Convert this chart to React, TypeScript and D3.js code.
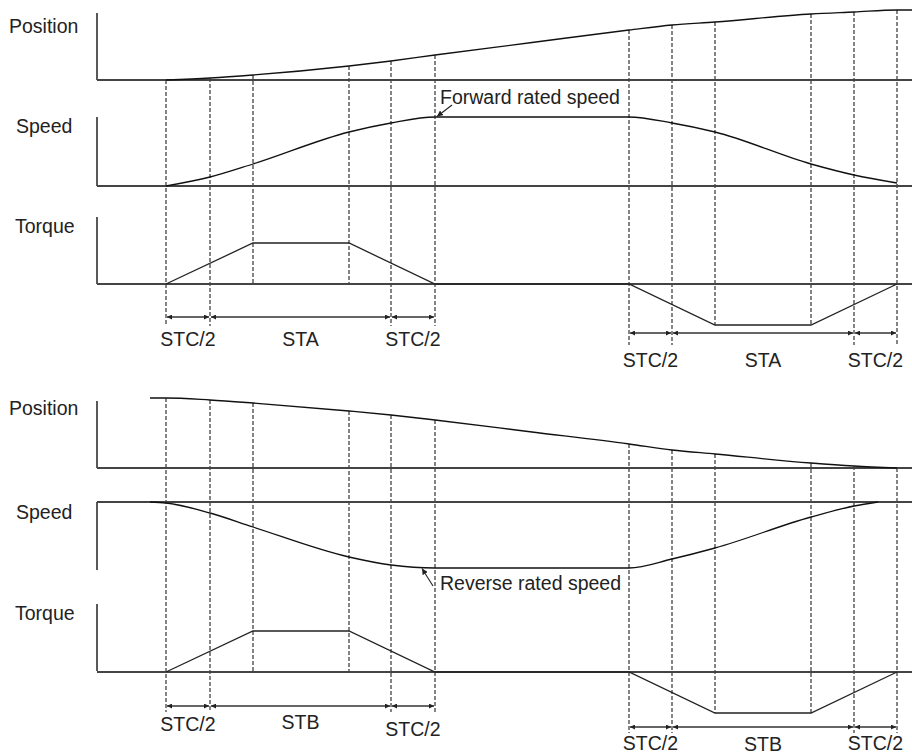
import React from "react";
import * as d3 from "d3";

// ---------- data (time units) ----------
const eventTimes = [0, 44, 87, 183, 225, 269, 463, 506, 549, 645, 688, 731];

const fwdPosT = [0, 44, 87, 183, 225, 269, 366, 463, 506, 549, 645, 688, 731, 746];
const fwdPosV = [0, 2, 5, 14, 19, 25, 37.5, 50, 55, 58, 66, 68, 70, 70];

const fwdSpeedT = [0, 44, 87, 183, 225, 269, 463, 506, 549, 645, 688, 731];
const fwdSpeedV = [0, 9, 22, 54, 63, 69, 69, 63, 54, 22, 11, 3];

const torqueT = [0, 87, 183, 269, 463, 549, 645, 731];
const torqueV = [0, 1, 1, 0, 0, -1, -1, 0];

const revPosT = [-16, 0, 44, 87, 183, 225, 269, 366, 463, 506, 549, 645, 688, 731];
const revPosV = [70, 70, 68, 65, 57, 53, 48, 36, 24, 18, 14, 5, 2, 0];

const revSpeedT = [-16, 0, 44, 87, 183, 225, 269, 463, 506, 549, 645, 688, 712];
const revSpeedV = [0, -1, -11, -25, -55, -63, -66, -66, -57, -46, -15, -4, 0];

const panelLabels = ["Position", "Speed", "Torque"];
const dimLabelsA = ["STC/2", "STA", "STC/2"];
const dimLabelsB = ["STC/2", "STB", "STC/2"];
const fwdNote = "Forward rated speed";
const revNote = "Reverse rated speed";

// ---------- layout ----------
const W = 912;
const H = 755;
const AX = 97;
const FONT = "'Liberation Sans', Arial, sans-serif";
const FS = 19.5;

const x = d3.scaleLinear().domain([0, 731]).range([166, 897]);

const zip = (t: number[], v: number[]) => t.map((tt, i) => [tt, v[i]] as [number, number]);

function smooth(t: number[], v: number[], y: d3.ScaleLinear<number, number>) {
  return d3
    .line<[number, number]>()
    .x((d) => x(d[0]))
    .y((d) => y(d[1]))
    .curve(d3.curveMonotoneX)(zip(t, v)) as string;
}
function straight(t: number[], v: number[], y: d3.ScaleLinear<number, number>) {
  return d3
    .line<[number, number]>()
    .x((d) => x(d[0]))
    .y((d) => y(d[1]))(zip(t, v)) as string;
}

// panel scales
const topPosY = d3.scaleLinear().domain([0, 70]).range([80, 10]);
const topSpeedY = d3.scaleLinear().domain([0, 69]).range([186, 117]);
const topTorqueY = d3.scaleLinear().domain([-1, 1]).range([325, 243]);
const botPosY = d3.scaleLinear().domain([0, 70]).range([468, 398]);
const botSpeedY = d3.scaleLinear().domain([-66, 0]).range([568, 502]);
const botTorqueY = d3.scaleLinear().domain([-1, 1]).range([713, 631]);

function posAt(t: number, ts: number[], vs: number[]) {
  for (let i = 0; i < ts.length - 1; i++) {
    if (t >= ts[i] && t <= ts[i + 1]) {
      const f = (t - ts[i]) / (ts[i + 1] - ts[i] || 1);
      return vs[i] + f * (vs[i + 1] - vs[i]);
    }
  }
  return vs[vs.length - 1];
}

type Half = {
  posY: d3.ScaleLinear<number, number>;
  speedY: d3.ScaleLinear<number, number>;
  torqueY: d3.ScaleLinear<number, number>;
  posT: number[];
  posV: number[];
  speedT: number[];
  speedV: number[];
  axes: [number, number][];
  baselines: number[];
  labelBase: number[];
  dimYLeft: number;
  dimYRight: number;
  dashEndLeft: number;
  dashEndRight: number;
  labels: string[];
  labelBaseLeft: number[];
  labelBaseRight: number[];
};

const halves: Half[] = [
  {
    posY: topPosY,
    speedY: topSpeedY,
    torqueY: topTorqueY,
    posT: fwdPosT,
    posV: fwdPosV,
    speedT: fwdSpeedT,
    speedV: fwdSpeedV,
    axes: [[13, 80], [117, 186], [217, 284]],
    baselines: [80, 186, 284],
    labelBase: [32.5, 132.5, 232.5],
    dimYLeft: 317,
    dimYRight: 333,
    dashEndLeft: 326,
    dashEndRight: 345,
    labels: dimLabelsA,
    labelBaseLeft: [345.5, 345.5, 345.5],
    labelBaseRight: [366.5, 366.5, 366.5],
  },
  {
    posY: botPosY,
    speedY: botSpeedY,
    torqueY: botTorqueY,
    posT: revPosT,
    posV: revPosV,
    speedT: revSpeedT,
    speedV: revSpeedV,
    axes: [[401, 468], [502, 570], [604, 671]],
    baselines: [468, 502, 672],
    labelBase: [415, 519, 619.5],
    dimYLeft: 706,
    dimYRight: 727,
    dashEndLeft: 712,
    dashEndRight: 733,
    labels: dimLabelsB,
    labelBaseLeft: [731, 729, 736],
    labelBaseRight: [750, 751, 750],
  },
];

const labelX = [9, 16, 15];

function HalfDiagram({ h }: { h: Half }) {
  const leftIdx = [0, 1, 4, 5];
  const dashed = eventTimes.map((t, i) => {
    const y0 = h.posY(posAt(t, h.posT, h.posV));
    let y1: number;
    if (i === 2 || i === 3) y1 = h.torqueY(0);
    else if (i === 8 || i === 9) y1 = h.torqueY(-1);
    else if (leftIdx.includes(i)) y1 = h.dashEndLeft;
    else y1 = h.dashEndRight;
    return { t, y0, y1, i };
  });
  const segsLeft: [number, number][] = [
    [eventTimes[0], eventTimes[1]],
    [eventTimes[1], eventTimes[4]],
    [eventTimes[4], eventTimes[5]],
  ];
  const segsRight: [number, number][] = [
    [eventTimes[6], eventTimes[7]],
    [eventTimes[7], eventTimes[10]],
    [eventTimes[10], eventTimes[11]],
  ];
  return (
    <g>
      {dashed.map((d) => (
        <line
          key={"d" + d.i}
          x1={x(d.t)}
          x2={x(d.t)}
          y1={d.y0}
          y2={d.y1}
          stroke="#333"
          strokeWidth={1.2}
          strokeDasharray="4,2"
        />
      ))}
      {h.axes.map(([a, b], i) => (
        <line key={"a" + i} x1={AX} x2={AX} y1={a} y2={b} stroke="#222" strokeWidth={1.5} />
      ))}
      {h.baselines.map((y, i) => (
        <line key={"b" + i} x1={AX} x2={W} y1={y} y2={y} stroke="#444" strokeWidth={1.8} />
      ))}
      {panelLabels.map((s, i) => (
        <text key={"l" + i} x={labelX[i]} y={h.labelBase[i]} fontFamily={FONT} fontSize={FS} fill="#222">
          {s}
        </text>
      ))}
      <path d={smooth(h.posT, h.posV, h.posY)} fill="none" stroke="#111" strokeWidth={1.3} />
      <path d={smooth(h.speedT, h.speedV, h.speedY)} fill="none" stroke="#111" strokeWidth={1.3} />
      <path d={straight(torqueT, torqueV, h.torqueY)} fill="none" stroke="#222" strokeWidth={1.3} />
      {segsLeft.map(([a, b], i) => (
        <g key={"sl" + i}>
          <line
            x1={x(a) + 1}
            x2={x(b) - 1}
            y1={h.dimYLeft}
            y2={h.dimYLeft}
            stroke="#333"
            strokeWidth={1.3}
            markerStart="url(#arr)"
            markerEnd="url(#arr)"
          />
          <text
            x={(x(a) + x(b)) / 2}
            y={h.labelBaseLeft[i]}
            textAnchor="middle"
            fontFamily={FONT}
            fontSize={FS}
            fill="#222"
          >
            {h.labels[i]}
          </text>
        </g>
      ))}
      {segsRight.map(([a, b], i) => (
        <g key={"sr" + i}>
          <line
            x1={x(a) + 1}
            x2={x(b) - 1}
            y1={h.dimYRight}
            y2={h.dimYRight}
            stroke="#333"
            strokeWidth={1.3}
            markerStart="url(#arr)"
            markerEnd="url(#arr)"
          />
          <text
            x={(x(a) + x(b)) / 2}
            y={h.labelBaseRight[i]}
            textAnchor="middle"
            fontFamily={FONT}
            fontSize={FS}
            fill="#222"
          >
            {h.labels[i]}
          </text>
        </g>
      ))}
    </g>
  );
}

export default function App() {
  const fwdTip: [number, number] = [x(271), topSpeedY(69)];
  const revTip: [number, number] = [x(256), botSpeedY(-66)];
  return (
    <svg
      width={W}
      height={H}
      viewBox={`0 0 ${W} ${H}`}
      style={{ position: "absolute", left: 0, top: 0, background: "#fff" }}
    >
      <defs>
        <marker
          id="arr"
          viewBox="0 0 10 10"
          refX={10}
          refY={5}
          markerWidth={5}
          markerHeight={5}
          markerUnits="userSpaceOnUse"
          orient="auto-start-reverse"
        >
          <path d="M0,0 L10,5 L0,10 z" fill="#222" />
        </marker>
        <marker
          id="arr2"
          viewBox="0 0 10 10"
          refX={10}
          refY={5}
          markerWidth={6}
          markerHeight={6}
          markerUnits="userSpaceOnUse"
          orient="auto"
        >
          <path d="M0,0 L10,5 L0,10 z" fill="#222" />
        </marker>
      </defs>
      <rect width={W} height={H} fill="#fff" />
      {halves.map((h, i) => (
        <HalfDiagram key={i} h={h} />
      ))}
      <text x={440} y={104} fontFamily={FONT} fontSize={FS} fill="#222">
        {fwdNote}
      </text>
      <line
        x1={452}
        y1={105}
        x2={fwdTip[0]}
        y2={fwdTip[1] - 0.5}
        stroke="#222"
        strokeWidth={1.1}
        markerEnd="url(#arr2)"
      />
      <text x={440} y={590} fontFamily={FONT} fontSize={FS} fill="#222">
        {revNote}
      </text>
      <line
        x1={433}
        y1={586}
        x2={revTip[0]}
        y2={revTip[1] + 0.5}
        stroke="#222"
        strokeWidth={1.1}
        markerEnd="url(#arr2)"
      />
    </svg>
  );
}
